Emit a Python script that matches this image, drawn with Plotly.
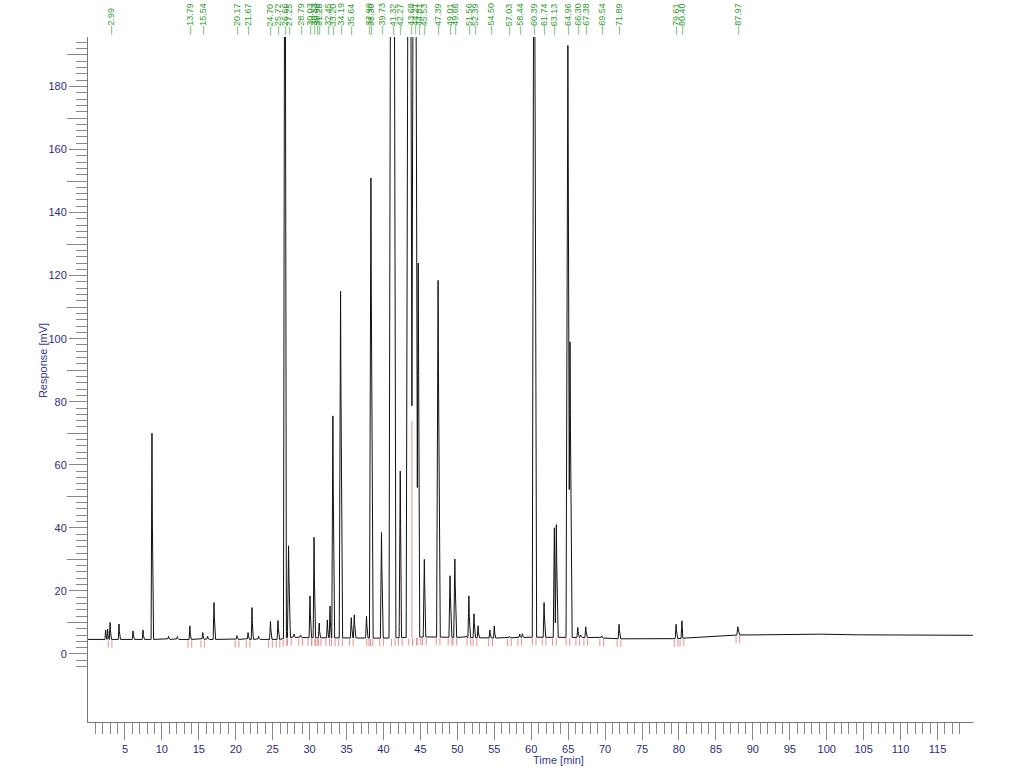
import numpy as np
import plotly.graph_objects as go

# ---- data ----
peak_times = [2.39, 2.66, 2.99, 4.2, 6.1, 7.45, 8.66, 10.9, 12.1, 13.79, 15.54, 16.2, 17.06,
              20.17, 21.67, 22.2, 23.1, 24.70, 25.72, 26.66, 27.15, 27.9, 28.79, 30.05, 30.6,
              31.3, 32.4, 32.76, 33.15, 34.19, 35.64, 36.05, 37.7, 38.30, 39.73, 41.2, 42.27,
              43.5, 44.2, 44.7, 45.53, 47.39, 49.01, 49.66, 51.2, 51.56, 52.25, 52.8, 54.4,
              55.0, 57.03, 58.44, 58.8, 60.39, 61.74, 63.13, 63.4, 64.96, 65.25, 66.30, 66.7,
              67.38, 69.54, 71.89, 79.61, 80.40, 87.97]
peak_heights = [7.6, 7.8, 10.0, 9.5, 7.3, 7.6, 70.0, 5.6, 5.5, 8.9, 6.8, 5.6, 16.3,
                5.8, 6.8, 14.7, 5.6, 10.3, 10.6, 300.0, 34.3, 6.3, 5.9, 18.4, 37.0,
                9.8, 10.8, 15.2, 75.5, 115.0, 11.5, 12.4, 12.0, 151.0, 38.5, 500.0, 58.0,
                400.0, 400.0, 124.0, 30.0, 118.5, 24.8, 30.1, 5.7, 18.4, 12.7, 8.9, 7.6,
                8.9, 5.6, 6.3, 6.4, 300.0, 16.3, 40.0, 41.0, 193.0, 99.0, 8.4, 6.0,
                8.6, 5.7, 9.4, 9.4, 10.5, 8.6]
peak_halfwidths = [0.1, 0.1, 0.1, 0.1, 0.1, 0.1, 0.12, 0.1, 0.1, 0.1, 0.1, 0.1, 0.12,
                   0.1, 0.1, 0.1, 0.1, 0.12, 0.12, 0.2, 0.15, 0.1, 0.1, 0.12, 0.12,
                   0.1, 0.1, 0.1, 0.15, 0.18, 0.12, 0.12, 0.12, 0.2, 0.15, 0.45, 0.15,
                   0.43, 0.43, 0.2, 0.15, 0.2, 0.15, 0.15, 0.1, 0.12, 0.12, 0.1, 0.1,
                   0.1, 0.1, 0.1, 0.1, 0.25, 0.12, 0.15, 0.15, 0.25, 0.2, 0.12, 0.1,
                   0.12, 0.1, 0.12, 0.12, 0.12, 0.15]

baseline_times = [0, 26, 27, 40, 46, 56, 60, 68, 72, 76, 80, 82, 84, 86, 88, 95, 100, 105, 110, 119.8]
baseline_values = [4.6, 4.6, 5.2, 5.0, 5.4, 5.0, 5.3, 5.2, 4.8, 4.6, 4.9, 5.2, 5.5, 5.8, 6.0, 6.1, 6.3, 6.0, 6.1, 5.9]

label_texts = ["2.99", "13.79", "15.54", "20.17", "21.67", "24.70", "25.72", "26.66", "27.25",
               "28.79", "30.03", "30.53", "30.98", "31.28", "32.45", "33.20", "34.19", "35.64",
               "37.99", "38.30", "39.73", "41.32", "42.27", "43.68", "44.21", "44.81", "45.53",
               "47.39", "49.01", "49.66", "51.56", "52.39", "54.50", "57.03", "58.44", "60.39",
               "61.74", "63.13", "64.96", "66.30", "67.38", "69.54", "71.89", "79.61", "80.40",
               "87.97"]

drop_line_times = [43.85]
drop_line_tops = [74.0]

x_ticks = list(range(5, 120, 5))
y_ticks = list(range(0, 181, 20))
y_mid_ticks = list(range(10, 191, 20))
y_minor_ticks = list(range(-4, 195, 2))

X_MAX = 119.8
Y_RANGE = [-21.6, 195.7]

# ---- build the trace from the peak table ----
grid = np.arange(0, X_MAX, 0.01)
grid = np.unique(np.concatenate([grid, np.array(peak_times)]))
base = np.interp(grid, baseline_times, baseline_values)
signal = np.zeros_like(grid)
for t, h, w in zip(peak_times, peak_heights, peak_halfwidths):
    amp = h - np.interp(t, baseline_times, baseline_values)
    tri = amp * np.clip(1 - np.abs(grid - t) / w, 0, None)
    signal = np.maximum(signal, tri)
trace_y = base + signal

fig = go.Figure()

# integration marks (red)
rx, ry = [], []
for lab in label_texts:
    t = float(lab)
    for tt in (t - 0.25, t + 0.25):
        b = float(np.interp(tt, baseline_times, baseline_values))
        rx += [tt, tt, None]
        ry += [b - 0.3, b - 2.6, None]
for t, top in zip(drop_line_times, drop_line_tops):
    b = float(np.interp(t, baseline_times, baseline_values))
    rx += [t, t, None]
    ry += [b, top, None]
fig.add_trace(go.Scatter(x=rx, y=ry, mode="lines", line=dict(color="#e39090", width=1),
                         hoverinfo="skip", showlegend=False))

fig.add_trace(go.Scatter(x=grid, y=trace_y, mode="lines",
                         line=dict(color="#111111", width=1), hoverinfo="skip",
                         showlegend=False))

# invisible trace on second y axis for 10-unit ticks
fig.add_trace(go.Scatter(x=[0], y=[0], yaxis="y2", mode="markers",
                         marker=dict(opacity=0), hoverinfo="skip", showlegend=False))

tick_font = dict(family="Liberation Sans, Arial, sans-serif", size=11, color="#2c2c7a")

fig.update_layout(
    width=1024, height=774,
    margin=dict(l=88, r=51, t=37, b=52),
    paper_bgcolor="white", plot_bgcolor="white",
    showlegend=False,
    xaxis=dict(range=[0, X_MAX], showline=True, linecolor="#777777", linewidth=1,
               showgrid=False, zeroline=False, ticks="outside", ticklen=17,
               tickcolor="#888888", tickwidth=1, tickmode="array", tickvals=x_ticks,
               ticktext=[str(v) for v in x_ticks], tickfont=tick_font, automargin=False,
               minor=dict(tickmode="array", tickvals=list(range(1, 119)), ticks="outside",
                          ticklen=11, tickcolor="#888888", tickwidth=1, showgrid=False)),
    yaxis=dict(range=Y_RANGE, showline=True, linecolor="#777777", linewidth=1,
               showgrid=False, zeroline=False, ticks="outside", ticklen=18,
               tickcolor="#888888", tickwidth=1, tickmode="array", tickvals=y_ticks,
               ticktext=[str(v) for v in y_ticks], tickfont=tick_font, automargin=False,
               minor=dict(tickmode="array", tickvals=y_minor_ticks, ticks="outside",
                          ticklen=11, tickcolor="#888888", tickwidth=1, showgrid=False)),
    yaxis2=dict(range=Y_RANGE, overlaying="y", side="left", showline=False,
                showgrid=False, zeroline=False, ticks="outside", ticklen=20,
                tickcolor="#888888", tickwidth=1, tickmode="array", tickvals=y_mid_ticks,
                showticklabels=False, automargin=False),
)

annotations = []
for lab in label_texts:
    annotations.append(dict(x=float(lab), y=1.0, xref="x", yref="paper",
                            text="\u2014" + lab, textangle=-90, showarrow=False,
                            xanchor="center", yanchor="bottom",
                            font=dict(family="Liberation Sans, Arial, sans-serif",
                                      size=9, color="#2f9a2f")))
annotations.append(dict(x=0.5, y=-0.056, xref="paper", yref="paper", text="Time [min]",
                        showarrow=False, xanchor="left", yanchor="middle",
                        font=dict(family="Liberation Sans, Arial, sans-serif", size=11,
                                  color="#3a3a8e")))
annotations.append(dict(x=-0.05, y=0.528, xref="paper", yref="paper", text="Response [mV]",
                        textangle=-90, showarrow=False, xanchor="center", yanchor="middle",
                        font=dict(family="Liberation Sans, Arial, sans-serif", size=11,
                                  color="#3a3a8e")))
fig.update_layout(annotations=annotations)

fig.write_html("out.html", config={"displayModeBar": False},
               post_script="document.body.style.margin='0px';")
